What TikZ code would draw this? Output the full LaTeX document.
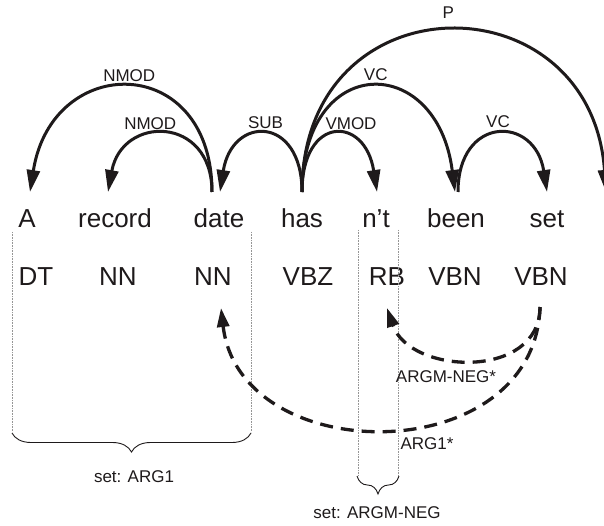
\documentclass[tikz,border=0pt]{standalone}
\usepackage{fontspec}
\setmainfont{Liberation Sans}
\usepackage{tikz}
\usetikzlibrary{arrows.meta,decorations.pathreplacing}
\definecolor{txtCol}{RGB}{30,26,27}
\definecolor{boxCol}{RGB}{150,150,150}
\tikzset{myWord/.style={anchor=base, text=txtCol, font=\fontsize{26}{30}\selectfont, inner sep=0pt}}
\tikzset{myLab/.style={text=txtCol, font=\fontsize{17}{20}\selectfont, inner sep=1pt}}
\tikzset{myArc/.style={line width=3pt, color=txtCol, -{Triangle[length=22pt,width=13pt]}}}
\tikzset{myDash/.style={line width=3.3pt, color=txtCol, dash pattern=on 13pt off 8pt, -{Triangle[length=19pt,width=12pt]}}}
\tikzset{myBox/.style={color=boxCol, densely dotted, line width=0.6pt}}
\tikzset{myBrace/.style={decorate, decoration={brace, mirror, amplitude=#1}, color=txtCol, line width=0.9pt}}

\begin{document}
\begin{tikzpicture}[x=1pt,y=-1pt]
	\useasboundingbox (0,0) rectangle (604,526);
	\clip (0,0) rectangle (604,526);

	% words
	\node[myWord] (wA) at (27,228) {A};
	\node[myWord] (wRecord) at (115,228) {record};
	\node[myWord] (wDate) at (219,228) {date};
	\node[myWord] (wHas) at (302,228) {has};
	\node[myWord] (wNt) at (376,228) {n’t};
	\node[myWord] (wBeen) at (456,228) {been};
	\node[myWord] (wSet) at (547,228) {set};
	% tags
	\node[myWord] (tA) at (36,285) {DT};
	\node[myWord] (tRecord) at (118,285) {NN};
	\node[myWord] (tDate) at (213,285) {NN};
	\node[myWord] (tHas) at (308,285) {VBZ};
	\node[myWord] (tNt) at (387,285) {RB};
	\node[myWord] (tBeen) at (455,285) {VBN};
	\node[myWord] (tSet) at (541,285) {VBN};

	\coordinate (aE) at (30,192);
	\coordinate (recordE) at (108,192);
	\coordinate (dateS) at (212,192);
	\coordinate (dateE) at (220,192);
	\coordinate (hasS) at (302,192);
	\coordinate (ntE) at (377,192);
	\coordinate (beenE) at (455,192);
	\coordinate (beenS) at (458,192);
	\coordinate (setE) at (547,192);
	\coordinate (dotE) at (606,192);

	\draw[myArc] (dateS) .. controls +(0,-140) and +(22,-140) .. (aE) node[myLab, midway, above=3pt]{NMOD};
	\draw[myArc] (dateS) .. controls +(0,-77) and +(14,-77) .. (recordE) node[myLab, midway, above=2pt, xshift=-15pt]{NMOD};
	\draw[myArc] (hasS) .. controls +(0,-77) and +(12,-77) .. (dateE) node[myLab, midway, above=3pt]{SUB};
	\draw[myArc] (hasS) .. controls +(0,-77) and +(-12,-77) .. (ntE) node[myLab, midway, above=2pt, xshift=16pt]{VMOD};
	\draw[myArc] (hasS) .. controls +(0,-140) and +(-18,-140) .. (beenE) node[myLab, midway, above=4pt, xshift=4pt]{VC};
	\draw[myArc] (hasS) .. controls +(0,-215) and +(-15,-215) .. (dotE) node[myLab, midway, above=10pt]{P};
	\draw[myArc] (beenS) .. controls +(0,-77) and +(-12,-77) .. (setE) node[myLab, midway, above=4pt]{VC};

	% argument sets
	\draw[myBox] (12,232) -- (12,432);
	\draw[myBox] (251,232) -- (251,432);
	\draw[myBox] (358,230) -- (358,475);
	\draw[myBox] (398,230) -- (398,475);
	\draw[myBrace=19pt] (12,433) -- (251,433);
	\draw[myBrace=18pt] (357,476) -- (399,476);
	\node[myLab] (argOneSet) at (134,477) {set: ARG1};
	\node[myLab] (negSet) at (377,513) {set: ARGM-NEG};

	\coordinate (setB) at (540,307);
	\coordinate (dateB) at (221,308);
	\coordinate (ntB) at (387,308);
	\draw[myDash] (setB) .. controls +(-5,163) and +(19,162) .. (dateB);
	\draw[myDash] (setB) .. controls +(0,73) and +(23,67) .. (ntB);
	\node[myLab] (argOneLab) at (427,444) {ARG1*};
	\node[myLab] (negLab) at (446,377) {ARGM-NEG*};
\end{tikzpicture}
\end{document}
